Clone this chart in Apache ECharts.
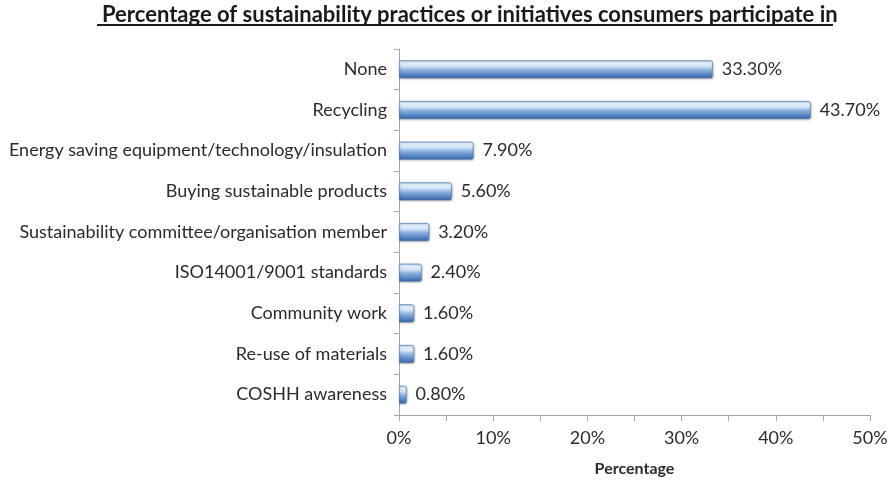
<!DOCTYPE html>
<html>
<head>
<meta charset="utf-8">
<script src="https://cdn.jsdelivr.net/npm/echarts@6/dist/echarts.min.js"></script>
<style>
  html, body { margin: 0; padding: 0; background: #fff; }
  #chart { width: 893px; height: 482px; }
</style>
</head>
<body>
<div id="chart"></div>
<script>
// Survey categories (top to bottom) and share of consumers, in percent
const categories = [
  'None',
  'Recycling',
  'Energy saving equipment/technology/insulation',
  'Buying sustainable products',
  'Sustainability committee/organisation member',
  'ISO14001/9001 standards',
  'Community work',
  'Re-use of materials',
  'COSHH awareness'
];
const shares = [33.3, 43.7, 7.9, 5.6, 3.2, 2.4, 1.6, 1.6, 0.8];
const tickValues = [0, 10, 20, 30, 40, 50];

const FONT = 'Lato, "Open Sans", sans-serif';
const TEXT = '#2b2b2b';

const chart = echarts.init(document.getElementById('chart'));

// Bars shaded like a glossy cylinder: pale highlight near the top, deeper blue below
const barFill = new echarts.graphic.LinearGradient(0, 0, 0, 1, [
  { offset: 0, color: '#8fb2dc' },
  { offset: 0.1, color: '#e6f2fc' },
  { offset: 0.32, color: '#d3e6f8' },
  { offset: 0.55, color: '#88addb' },
  { offset: 0.8, color: '#5584c2' },
  { offset: 1, color: '#3b66a4' }
]);

chart.setOption({
  animation: false,
  title: {
    text: 'Percentage of sustainability practices or initiatives consumers participate in',
    left: 97,
    top: -1,
    textStyle: { fontFamily: FONT, fontSize: 22, fontWeight: 'bold', color: '#1a1a1a' }
  },
  graphic: [{
    type: 'line',
    shape: { x1: 97, y1: 25, x2: 833, y2: 25 },
    style: { stroke: '#1a1a1a', lineWidth: 2 }
  }],
  grid: { left: 399, right: 23, top: 49, bottom: 62, containLabel: false },
  xAxis: {
    type: 'value',
    min: 0,
    max: 50,
    interval: 10,
    name: 'Percentage',
    nameLocation: 'middle',
    nameGap: 46,
    nameTextStyle: { fontFamily: FONT, fontSize: 16, fontWeight: 'bold', color: TEXT },
    axisLine: { show: true, lineStyle: { color: '#a6a6a6', width: 1 } },
    axisTick: { show: true, length: 6, lineStyle: { color: '#a6a6a6' } },
    minorTick: { show: true, splitNumber: 2, length: 6, lineStyle: { color: '#a6a6a6' } },
    splitLine: { show: false },
    axisLabel: {
      fontFamily: FONT, fontSize: 18, color: TEXT, margin: 14,
      formatter: v => tickValues.includes(v) ? v + '%' : ''
    }
  },
  yAxis: {
    type: 'category',
    data: categories,
    inverse: true,
    axisLine: { show: true, lineStyle: { color: '#a6a6a6', width: 1 } },
    axisTick: { show: true, length: 5, lineStyle: { color: '#a6a6a6' } },
    axisLabel: { fontFamily: FONT, fontSize: 18, color: TEXT, margin: 12 }
  },
  series: [{
    type: 'bar',
    data: shares,
    barWidth: 18,
    itemStyle: {
      color: barFill,
      borderColor: '#4a74ad',
      borderWidth: 0.6,
      borderRadius: [0, 2, 2, 0],
      shadowColor: 'rgba(0,0,0,0.25)',
      shadowBlur: 2,
      shadowOffsetX: 1,
      shadowOffsetY: 1
    },
    label: {
      show: true,
      position: 'right',
      distance: 9,
      fontFamily: FONT,
      fontSize: 18,
      color: TEXT,
      formatter: p => p.value.toFixed(2) + '%'
    }
  }]
});
</script>
</body>
</html>
